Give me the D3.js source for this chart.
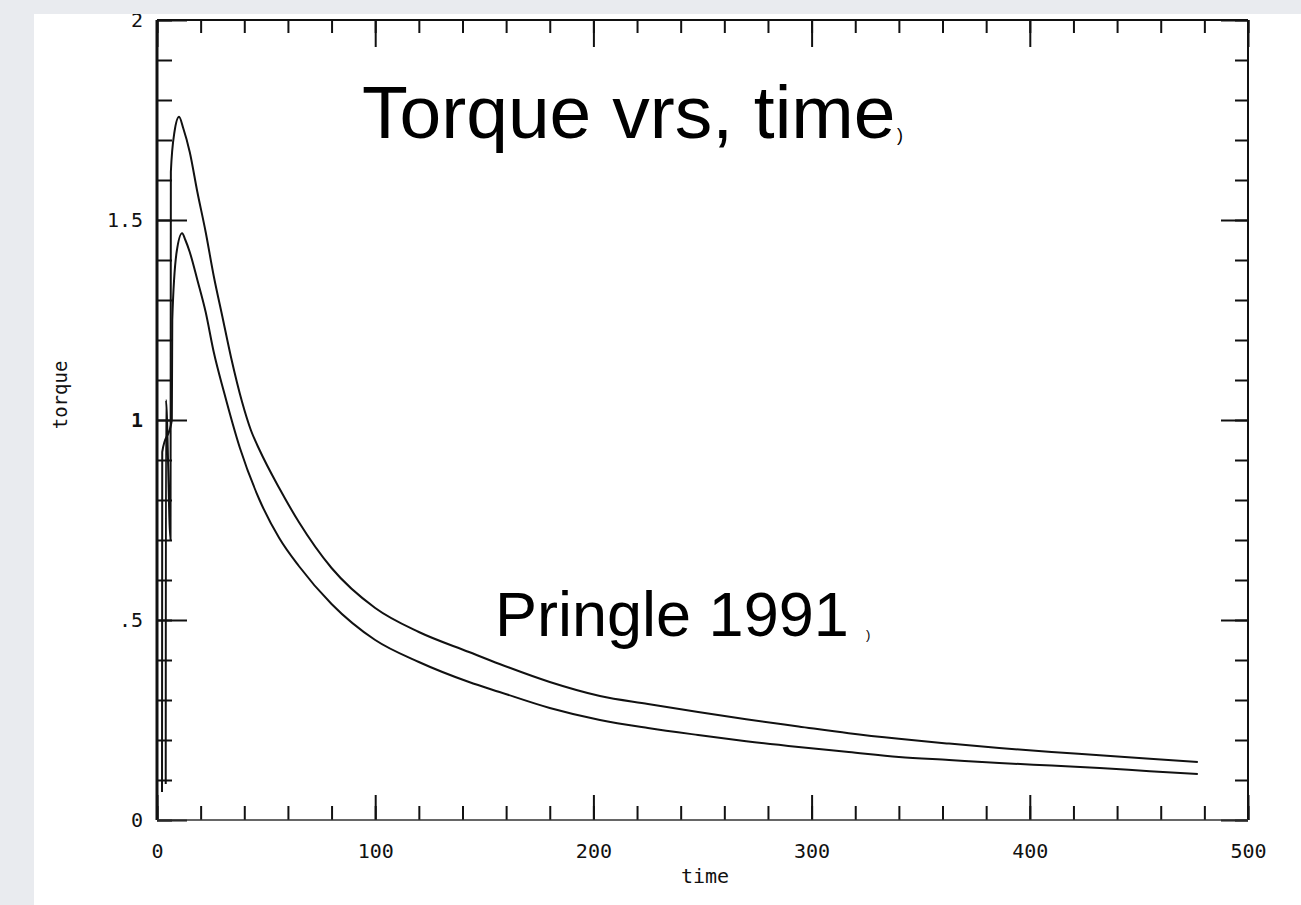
<!DOCTYPE html>
<html><head><meta charset="utf-8">
<script src="https://cdn.jsdelivr.net/npm/d3@7"></script>
<style>
html,body{margin:0;padding:0;background:#e9ebef;}
svg{display:block;}
</style></head>
<body><svg id="c" width="1301" height="905"></svg>
<script>
// ---- data ----
const upperT = [4.0,4.1,6.2,6.35,8,10.1,12,15,18.5,22.3,26,29.9,34,39,43,47,56,65,80,100,120,143,157,180,203,225,248,270,294,317,340,363,386,410,432,455,477];
const upperV = [0.09,1.05,0.70,1.62,1.72,1.758,1.73,1.67,1.57,1.47,1.36,1.26,1.155,1.045,0.975,0.925,0.83,0.745,0.63,0.53,0.47,0.42,0.39,0.345,0.31,0.29,0.27,0.252,0.234,0.217,0.203,0.191,0.18,0.17,0.162,0.153,0.145];
const lowerT = [2.3,2.4,6.8,7.0,9,11.5,13,15,18.5,22.3,26,30.7,38,47,56,65,80,100,120,143,157,180,203,225,248,270,294,317,340,363,386,410,432,455,477];
const lowerV = [0.07,0.92,1.0,1.25,1.42,1.467,1.45,1.42,1.35,1.27,1.17,1.07,0.93,0.80,0.705,0.635,0.54,0.45,0.395,0.345,0.32,0.28,0.25,0.23,0.2125,0.197,0.1825,0.17,0.1575,0.15,0.1425,0.136,0.13,0.122,0.115];
const xMajorTicks = [0,100,200,300,400,500];
const xTickLabels = ["0","100","200","300","400","500"];
const xMinorTicks = d3.range(0,501,20);
const yMajorTicks = [0,0.5,1,1.5,2];
const yTickLabels = ["0",".5","1","1.5","2"];
const yMinorTicks = d3.range(0,21,1).map(d=>d/10);
const titleText = "Torque vrs, time";
const noteText = "Pringle 1991";
const xLabel = "time", yLabel = "torque";

// ---- drawing ----
const svg = d3.select("#c");
svg.append("rect").attr("x",34).attr("y",14).attr("width",1301-34).attr("height",905-14).attr("fill","#ffffff");

const x = d3.scaleLinear().domain([0,500]).range([157,1248]);
const y = d3.scaleLinear().domain([0,2]).range([820,20]);
const ink = "#111";
const tickFont = "'DejaVu Sans Mono', 'Liberation Mono', monospace";

function styleAxis(g){
  g.select(".domain").remove();
  g.selectAll("line").attr("stroke",ink).attr("stroke-width",2);
  g.selectAll("text").attr("fill",ink).style("font-family",tickFont).style("font-size","20px");
}
// bottom
svg.append("g").attr("transform",`translate(0,${y(0)})`)
  .call(d3.axisBottom(x).tickValues(xMinorTicks).tickSizeInner(-14).tickSizeOuter(0).tickFormat(""))
  .call(styleAxis);
svg.append("g").attr("transform",`translate(0,${y(0)})`)
  .call(d3.axisBottom(x).tickValues(xMajorTicks).tickSizeInner(-25).tickSizeOuter(0).tickPadding(24)
        .tickFormat((d,i)=>xTickLabels[i]))
  .call(styleAxis);
// top
svg.append("g").attr("transform",`translate(0,${y(2)})`)
  .call(d3.axisTop(x).tickValues(xMinorTicks).tickSizeInner(-13).tickSizeOuter(0).tickFormat(""))
  .call(styleAxis);
svg.append("g").attr("transform",`translate(0,${y(2)})`)
  .call(d3.axisTop(x).tickValues(xMajorTicks).tickSizeInner(-27).tickSizeOuter(0).tickFormat(""))
  .call(styleAxis);
// left
svg.append("g").attr("transform",`translate(${x(0)},0)`)
  .call(d3.axisLeft(y).tickValues(yMinorTicks).tickSizeInner(-15).tickSizeOuter(0).tickFormat(""))
  .call(styleAxis);
const gl = svg.append("g").attr("transform",`translate(${x(0)},0)`)
  .call(d3.axisLeft(y).tickValues(yMajorTicks).tickSizeInner(-30).tickSizeOuter(0).tickPadding(14)
        .tickFormat((d,i)=>yTickLabels[i]))
  .call(styleAxis);
gl.selectAll("text").filter(d=>d===1).style("font-weight","bold");
// right
svg.append("g").attr("transform",`translate(${x(500)},0)`)
  .call(d3.axisRight(y).tickValues(yMinorTicks).tickSizeInner(-13).tickSizeOuter(0).tickFormat(""))
  .call(styleAxis);
svg.append("g").attr("transform",`translate(${x(500)},0)`)
  .call(d3.axisRight(y).tickValues(yMajorTicks).tickSizeInner(-27).tickSizeOuter(0).tickFormat(""))
  .call(styleAxis);

// frame
svg.append("line").attr("x1",x(0)).attr("x2",x(0)).attr("y1",y(2)).attr("y2",y(0)).attr("stroke",ink).attr("stroke-width",3);
svg.append("line").attr("x1",x(500)).attr("x2",x(500)).attr("y1",y(2)).attr("y2",y(0)).attr("stroke",ink).attr("stroke-width",2);
svg.append("line").attr("x1",x(0)).attr("x2",x(500)).attr("y1",y(2)).attr("y2",y(2)).attr("stroke",ink).attr("stroke-width",2);
svg.append("line").attr("x1",x(0)).attr("x2",x(500)).attr("y1",y(0)).attr("y2",y(0)).attr("stroke","#333").attr("stroke-width",1.5);

// curves
const line = d3.line().x(d=>x(d[0])).y(d=>y(d[1])).curve(d3.curveMonotoneX);
svg.append("path").datum(upperT.map((t,i)=>[t,upperV[i]])).attr("d",line)
  .attr("fill","none").attr("stroke",ink).attr("stroke-width",2);
svg.append("path").datum(lowerT.map((t,i)=>[t,lowerV[i]])).attr("d",line)
  .attr("fill","none").attr("stroke",ink).attr("stroke-width",2);

// axis titles
svg.append("text").attr("x",705).attr("y",883).attr("text-anchor","middle")
  .style("font-family",tickFont).style("font-size","20px").attr("fill",ink).text(xLabel);
svg.append("text").attr("transform","translate(67,395) rotate(-90)").attr("text-anchor","middle")
  .style("font-family",tickFont).style("font-size","19px").attr("fill",ink).text(yLabel);

// annotations
const sans = "'Liberation Sans', Arial, Helvetica, sans-serif";
svg.append("text").attr("x",362).attr("y",138).style("font-family",sans).style("font-size","75px").attr("fill","#000").text(titleText);
svg.append("text").attr("x",897).attr("y",141).style("font-family",sans).style("font-size","18px").attr("fill","#000").text(")");
svg.append("text").attr("x",495).attr("y",636).style("font-family",sans).style("font-size","63px").attr("fill","#000").text(noteText);
svg.append("text").attr("x",866).attr("y",639).style("font-family",sans).style("font-size","13px").attr("fill","#000").text(")");

// top gray strip (clips the "2" label as in the scan)
svg.append("rect").attr("x",0).attr("y",0).attr("width",1301).attr("height",14).attr("fill","#e9ebef");
</script></body></html>
